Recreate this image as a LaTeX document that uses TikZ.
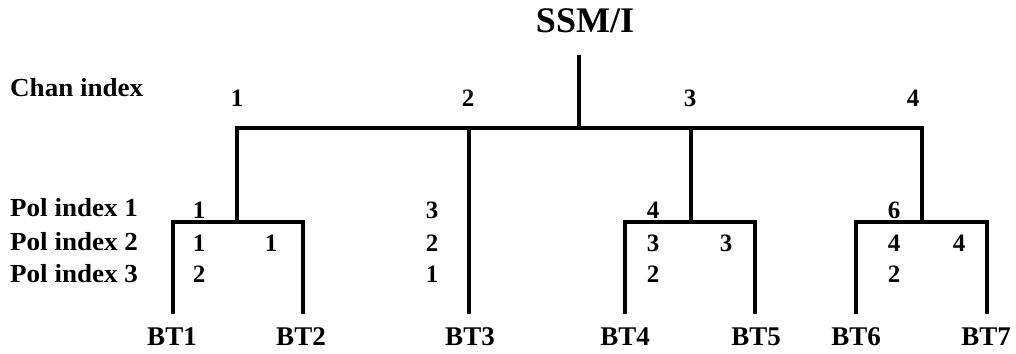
\documentclass[tikz,border=0pt]{standalone}
\usepackage{fontspec}
\setmainfont{Liberation Serif}
\newfontfamily\widefont[FakeStretch=1.04]{Liberation Serif}
\begin{document}
\begin{tikzpicture}[x=1pt,y=-1pt,
  wire/.style={line width=4pt,line join=miter},
  rowlabel/.style={anchor=west,inner sep=0pt,font=\widefont\bfseries\fontsize{26}{26}\selectfont},
  num/.style={inner sep=0pt,font=\bfseries\fontsize{25}{25}\selectfont},
  leaf/.style={inner sep=0pt,font=\bfseries\fontsize{27}{27}\selectfont},
  title/.style={inner sep=0pt,font=\bfseries\fontsize{36}{36}\selectfont}]
\useasboundingbox (0,0) rectangle (1016,353);
% title
\node[title] (ssmi) at (585,21) {SSM/I};
\coordinate (top) at (579,55);
\coordinate (root) at (579,128);
% channels
\coordinate (c1) at (237,128);
\coordinate (c2) at (469,128);
\coordinate (c3) at (691,128);
\coordinate (c4) at (922,128);
\coordinate (s1) at (237,222);
\coordinate (s3) at (691,222);
\coordinate (s4) at (922,222);
% leaves
\coordinate (t1) at (173,222); \coordinate (e1) at (173,314);
\coordinate (t2) at (303,222); \coordinate (e2) at (303,314);
\coordinate (e3) at (469,314);
\coordinate (t4) at (625,222); \coordinate (e4) at (625,314);
\coordinate (t5) at (755,222); \coordinate (e5) at (755,314);
\coordinate (t6) at (856,222); \coordinate (e6) at (856,314);
\coordinate (t7) at (987,222); \coordinate (e7) at (987,314);
% wires
\draw[wire] (top) -- (root);
\draw[wire] (s1) -- (c1) -- (c4) -- (s4);
\draw[wire] (c2) -- (e3);
\draw[wire] (c3) -- (s3);
\draw[wire] (e1) -- (t1) -- (t2) -- (e2);
\draw[wire] (e4) -- (t4) -- (t5) -- (e5);
\draw[wire] (e6) -- (t6) -- (t7) -- (e7);
% row labels
\node[rowlabel] (chan) at (10,88) {Chan index};
\node[rowlabel] (pol1) at (10,208) {Pol index 1};
\node[rowlabel] (pol2) at (10,242) {Pol index 2};
\node[rowlabel] (pol3) at (10,274) {Pol index 3};
% channel numbers
\node[num] (n1) at (237,98) {1};
\node[num] (n2) at (468,98) {2};
\node[num] (n3) at (690,98) {3};
\node[num] (n4) at (913,98) {4};
% pol numbers
\node[num] (a1) at (199,210) {1};
\node[num] (a2) at (199,243) {1};
\node[num] (a3) at (199,274) {2};
\node[num] (b2) at (271,243) {1};
\node[num] (d1) at (432,210) {3};
\node[num] (d2) at (432,243) {2};
\node[num] (d3) at (432,274) {1};
\node[num] (f1) at (653,210) {4};
\node[num] (f2) at (653,243) {3};
\node[num] (f3) at (653,274) {2};
\node[num] (g2) at (726,243) {3};
\node[num] (h1) at (894,210) {6};
\node[num] (h2) at (894,243) {4};
\node[num] (h3) at (894,274) {2};
\node[num] (k2) at (959,243) {4};
% leaf labels
\node[leaf] (bt1) at (172,337) {BT1};
\node[leaf] (bt2) at (301,337) {BT2};
\node[leaf] (bt3) at (470,337) {BT3};
\node[leaf] (bt4) at (625,337) {BT4};
\node[leaf] (bt5) at (756,337) {BT5};
\node[leaf] (bt6) at (856,337) {BT6};
\node[leaf] (bt7) at (986,337) {BT7};
\end{tikzpicture}
\end{document}
